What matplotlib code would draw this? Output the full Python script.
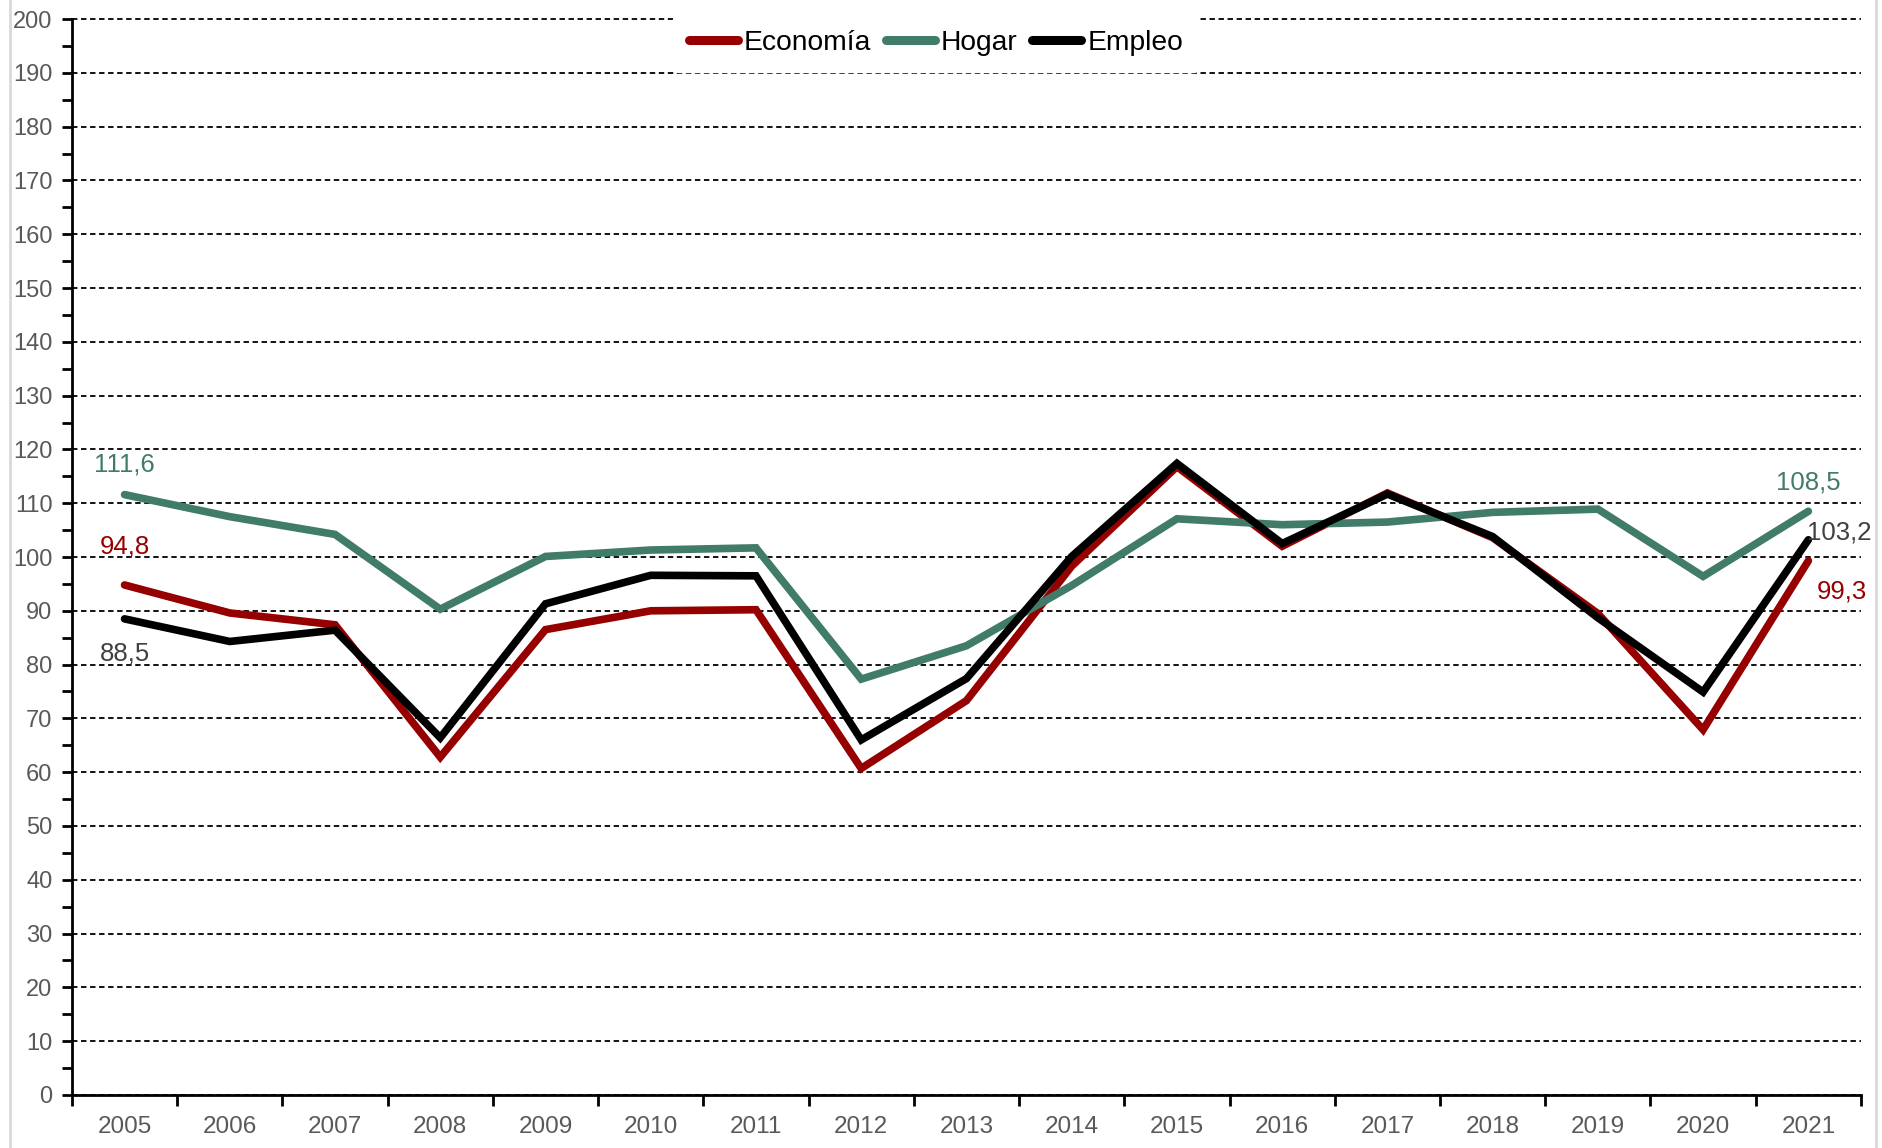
import matplotlib
matplotlib.use("Agg")
import matplotlib.pyplot as plt
from matplotlib.lines import Line2D

plt.rcParams['font.family'] = ['Liberation Sans', 'DejaVu Sans']

years = ["2005", "2006", "2007", "2008", "2009", "2010", "2011", "2012", "2013",
         "2014", "2015", "2016", "2017", "2018", "2019", "2020", "2021"]
economia = [94.8, 89.6, 87.4, 62.8, 86.5, 90.0, 90.2, 60.7, 73.3,
            98.3, 116.8, 102.0, 111.9, 103.6, 89.5, 67.9, 99.3]
hogar = [111.6, 107.5, 104.2, 90.3, 100.1, 101.3, 101.7, 77.3, 83.5,
         94.7, 107.1, 106.0, 106.5, 108.3, 108.9, 96.4, 108.5]
empleo = [88.5, 84.3, 86.4, 66.4, 91.3, 96.6, 96.5, 66.0, 77.4,
          100.1, 117.4, 102.5, 111.7, 103.8, 88.7, 74.9, 103.2]

c_eco = "#960000"
c_hog = "#417B69"
c_emp = "#000000"
c_tick = "#595959"

fig = plt.figure(figsize=(18.83, 11.48), dpi=100)
ax = fig.add_axes([0.0382, 0.0462, 0.9501, 0.9372])

x = list(range(len(years)))
style = dict(lw=5.5, solid_capstyle='round', solid_joinstyle='miter', zorder=3)
ax.plot(x, economia, color=c_eco, label="Economía", **style)
ax.plot(x, hogar, color=c_hog, label="Hogar", **style)
ax.plot(x, empleo, color=c_emp, label="Empleo", **style)

ax.set_xlim(-0.5, len(years) - 0.5)
ax.set_ylim(0, 200)
ax.set_yticks(range(0, 201, 10))
ax.set_yticks(range(5, 200, 10), minor=True)
ax.set_xticks(x)
ax.set_xticklabels(years)
ax.set_xticks([i - 0.5 for i in range(len(years) + 1)], minor=True)

ax.tick_params(axis='y', which='major', length=7, width=2, direction='out',
               labelsize=17, labelcolor=c_tick, pad=7)
ax.tick_params(axis='y', which='minor', length=7, width=2, direction='out')
ax.tick_params(axis='x', which='major', length=0, labelsize=17.5,
               labelcolor=c_tick, pad=15)
ax.tick_params(axis='x', which='minor', length=8, width=2, direction='out')

for s in ['top', 'right']:
    ax.spines[s].set_visible(False)
for s in ['left', 'bottom']:
    ax.spines[s].set_linewidth(2)
    ax.spines[s].set_zorder(4)

ax.yaxis.grid(True, which='major', color='black', linestyle=(0, (3, 2)), lw=1.3)
for gl in ax.yaxis.get_gridlines():
    gl.set_clip_on(False)
ax.set_axisbelow(True)

# data labels at first and last year
lab = dict(textcoords='offset points', va='center', fontsize=18.5)
ax.annotate("111,6", (0, hogar[0]), xytext=(0, 22), ha='center', color=c_hog, **lab)
ax.annotate("94,8", (0, economia[0]), xytext=(0, 28), ha='center', color=c_eco, **lab)
ax.annotate("88,5", (0, empleo[0]), xytext=(0, -25), ha='center', color="#404040", **lab)
ax.annotate("108,5", (16, hogar[-1]), xytext=(0, 21), ha='center', color=c_hog, **lab)
ax.annotate("103,2", (16, empleo[-1]), xytext=(-1, 5), ha='left', color="#404040", **lab)
ax.annotate("99,3", (16, economia[-1]), xytext=(6, -22), ha='left', color=c_eco, **lab)

leg = ax.legend(loc='center', bbox_to_anchor=(0.497, 0.9625), bbox_transform=fig.transFigure,
                ncol=3, frameon=True, fontsize=20.3, handlelength=1.75,
                handletextpad=0.22, columnspacing=0.5, borderpad=0.55)
leg.get_frame().set_facecolor('white')
leg.get_frame().set_edgecolor('white')
leg.get_frame().set_alpha(1)
leg.set_zorder(5)
for ln in leg.get_lines():
    ln.set_linewidth(6.5)
    ln.set_solid_capstyle('round')

# light chart-area border
fig.add_artist(Line2D([10 / 1883, 10 / 1883], [0, 1], color='#D9D9D9', lw=2))
fig.add_artist(Line2D([1876 / 1883, 1876 / 1883], [0, 1], color='#D9D9D9', lw=2))

fig.savefig("out.png", dpi=100)
